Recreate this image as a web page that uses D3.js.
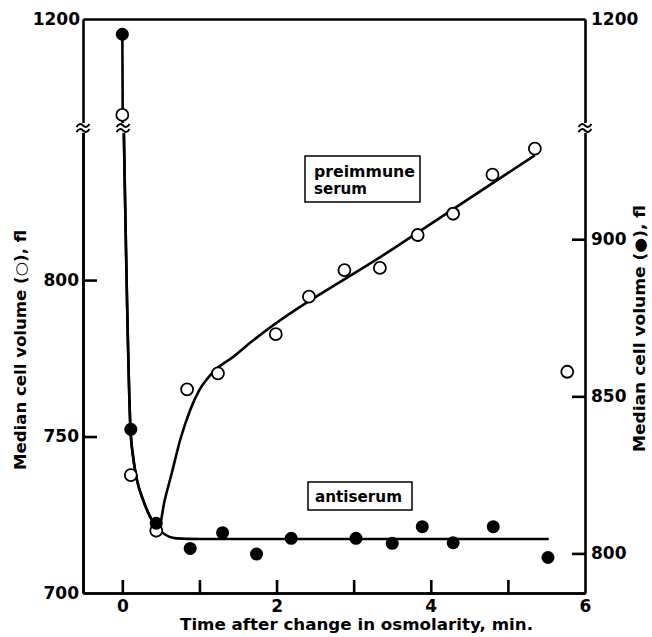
<!DOCTYPE html>
<html>
<head>
<meta charset="utf-8">
<script src="https://cdn.jsdelivr.net/npm/d3@7"></script>
<style>
body{margin:0;background:#fff}
svg{display:block}
text{font-family:"DejaVu Sans",sans-serif;fill:black}
</style>
</head>
<body>
<svg></svg>
<script>
// points : temps (min), volume median (fl)
// cercles vides = serum preimmun (axe gauche), cercles pleins = antiserum (axe droit)
var tempsPreimmun = [0, 0.11, 0.44, 0.84, 1.24, 1.99, 2.42, 2.88, 3.34, 3.83, 4.29, 4.80, 5.35, 5.77]
var volPreimmun = [1024, 737.7, 719.9, 765.1, 770.2, 782.7, 794.7, 803.2, 803.9, 814.4, 821.2, 833.7, 842.0, 770.7]
var tempsAntiserum = [0, 0.11, 0.44, 0.88, 1.30, 1.74, 2.19, 3.03, 3.50, 3.89, 4.29, 4.81, 5.52]
var volAntiserum = [1172, 839.5, 809.6, 801.6, 806.6, 799.8, 804.8, 804.8, 803.2, 808.5, 803.4, 808.5, 798.7]

// courbes ajustees
var fitHaut = [[0, 1172], [0.006, 1004]]   // au-dessus de la coupure
var fitDescente = [[0.02, 846.9], [0.106, 752.3], [0.14, 743.5], [0.19, 736.1], [0.27, 729.7], [0.36, 724.4]]  // axe gauche
var fitPreimmun = [[0.47, 720.8], [0.55, 729.7], [0.64, 738.2], [0.75, 748.9], [0.88, 758.5], [1.0, 764.9],
  [1.18, 770.7], [1.44, 775.5], [1.65, 779.8], [3.5, 809.8], [5.35, 839.9]]  // axe gauche
var fitAntiserum = [[0.44, 808.5], [0.53, 806.4], [0.70, 804.8], [1.0, 804.6], [5.53, 804.6]]  // axe droit

// graduations
var ticksX = [0, 1, 2, 3, 4, 5]
var labelsX = [0, 2, 4, 6]
var ticksGauche = [750, 800]
var labelsGauche = [700, 750, 800]
var ticksDroite = [800, 850, 900]
var tickHaut = [1200]

var canevas = d3.select("svg").attr("width", 652).attr("height", 637)

var x = d3.scaleLinear().domain([-0.51, 6]).range([83, 585])
var yG = d3.scaleLinear().domain([700, 848.6]).range([593, 128])
var yD = d3.scaleLinear().domain([787.4, 935.4]).range([593, 128])
var yHaut = d3.scaleLinear().domain([1000, 1200]).range([128, 19])

function yGauche(v){ return v >= 1000 ? yHaut(v) : yG(v) }
function yDroite(v){ return v >= 1000 ? yHaut(v) : yD(v) }

var entier = d3.format("d")

function styleAxe(g){
  g.attr("font-size", null).attr("font-family", null)
  g.select(".domain").attr("stroke", "black").attr("stroke-width", 2.6)
  g.selectAll(".tick line").attr("stroke", "black").attr("stroke-width", 2.6)
  g.selectAll(".tick text").style("font-size", "17px").style("font-weight", "bold").attr("fill", "black")
}

// axe x (bas) : graduations 0..5 vers l'interieur, etiquettes paires
canevas.append("g").attr("transform", "translate(0,593)")
  .call(d3.axisBottom(x).tickValues(ticksX).tickSizeInner(-13).tickSizeOuter(0).tickFormat(""))
  .call(styleAxe)
canevas.append("g").attr("transform", "translate(0,593)")
  .call(d3.axisBottom(x).tickValues(labelsX).tickSize(0).tickPadding(7).tickFormat(entier))
  .call(styleAxe)
// bord du haut
canevas.append("g").attr("transform", "translate(0,19)")
  .call(d3.axisTop(x).tickValues([]).tickSizeOuter(0))
  .call(styleAxe)

// axe gauche
canevas.append("g").attr("transform", "translate(83,0)")
  .call(d3.axisLeft(yG).tickValues(ticksGauche).tickSizeInner(-14).tickSizeOuter(0).tickFormat(""))
  .call(styleAxe)
canevas.append("g").attr("transform", "translate(83,0)")
  .call(d3.axisLeft(yG).tickValues(labelsGauche).tickSize(0).tickPadding(4).tickFormat(entier))
  .call(styleAxe)
canevas.append("g").attr("transform", "translate(83,0)")
  .call(d3.axisLeft(yHaut).tickValues(tickHaut).tickSize(0).tickPadding(3).tickFormat(entier))
  .call(styleAxe)

// axe droit
canevas.append("g").attr("transform", "translate(585,0)")
  .call(d3.axisRight(yD).tickValues(ticksDroite).tickSizeInner(-13).tickSizeOuter(0).tickPadding(6).tickFormat(entier))
  .call(styleAxe)
canevas.append("g").attr("transform", "translate(585,0)")
  .call(d3.axisRight(yHaut).tickValues(tickHaut).tickSize(0).tickPadding(6).tickFormat(entier))
  .call(styleAxe)

// courbes
var ligne = d3.line().curve(d3.curveMonotoneX)
var ptsHaut = fitHaut.map(function(d){ return [x(d[0]), yHaut(d[1])] })
var ptsDescente = fitDescente.map(function(d){ return [x(d[0]), yG(d[1])] })
var ptsPre = ptsDescente.concat(fitPreimmun.map(function(d){ return [x(d[0]), yG(d[1])] }))
var ptsAnti = ptsDescente.concat(fitAntiserum.map(function(d){ return [x(d[0]), yD(d[1])] }))

;[ptsHaut, ptsPre, ptsAnti].forEach(function(p){
  canevas.append("path")
    .attr("d", ligne(p))
    .attr("style", "fill:none;stroke:black;stroke-width:2.6")
})

// symboles de coupure
function coupure(cx, cy){
  var g = canevas.append("g").attr("transform", "translate(" + cx + "," + cy + ")")
  g.append("rect").attr("x", -4).attr("y", -5).attr("width", 8).attr("height", 10).attr("fill", "white")
  ;[-2.5, 2.5].forEach(function(d){
    g.append("path")
      .attr("d", "M-6.5," + (d + 1.5) + " Q-3.2," + (d - 3.5) + " 0," + d + " T6.5," + (d - 1.5))
      .attr("style", "fill:none;stroke:black;stroke-width:2")
  })
}
coupure(83, 128)
coupure(585, 128)
coupure(x(0.01), 128)

// points
canevas.selectAll(".pre").data(tempsPreimmun).enter().append("circle")
  .attr("cx", function(d){ return x(d) })
  .attr("cy", function(d, i){ return yGauche(volPreimmun[i]) })
  .attr("r", 6)
  .attr("style", "fill:white;stroke:black;stroke-width:1.8")
canevas.selectAll(".anti").data(tempsAntiserum).enter().append("circle")
  .attr("cx", function(d){ return x(d) })
  .attr("cy", function(d, i){ return yDroite(volAntiserum[i]) })
  .attr("r", 6.5)
  .attr("fill", "black")

// cadres de legende
canevas.append("rect").attr("x", 305).attr("y", 156).attr("width", 115).attr("height", 46)
  .attr("style", "fill:white;stroke:black;stroke-width:1.5")
canevas.append("text").text("preimmune").attr("x", 314).attr("y", 176.5)
  .attr("textLength", 101).attr("lengthAdjust", "spacingAndGlyphs")
  .style("font-size", "15px").style("font-weight", "bold")
canevas.append("text").text("serum").attr("x", 314).attr("y", 194)
  .attr("textLength", 53).attr("lengthAdjust", "spacingAndGlyphs")
  .style("font-size", "15px").style("font-weight", "bold")
canevas.append("rect").attr("x", 308).attr("y", 482).attr("width", 104).attr("height", 28)
  .attr("style", "fill:white;stroke:black;stroke-width:1.5")
canevas.append("text").text("antiserum").attr("x", 315).attr("y", 502)
  .attr("textLength", 87).attr("lengthAdjust", "spacingAndGlyphs")
  .style("font-size", "15px").style("font-weight", "bold")

// titres des axes
canevas.append("text").text("Time after change in osmolarity, min.")
  .attr("x", 180).attr("y", 630).attr("textLength", 353).attr("lengthAdjust", "spacingAndGlyphs")
  .style("font-size", "15px").style("font-weight", "bold")
canevas.append("text").text("Median cell volume (○), fl")
  .attr("transform", "translate(26,470) rotate(-90)").attr("textLength", 240).attr("lengthAdjust", "spacingAndGlyphs")
  .style("font-size", "15px").style("font-weight", "bold")
canevas.append("text").text("Median cell volume (●), fl")
  .attr("transform", "translate(645,452) rotate(-90)").attr("textLength", 247).attr("lengthAdjust", "spacingAndGlyphs")
  .style("font-size", "15px").style("font-weight", "bold")
</script>
</body>
</html>
